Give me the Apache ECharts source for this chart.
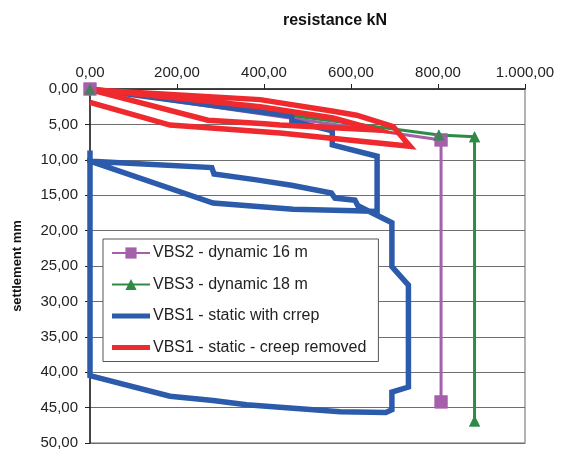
<!DOCTYPE html>
<html><head><meta charset="utf-8">
<script src="https://cdn.jsdelivr.net/npm/echarts@6/dist/echarts.min.js"></script>
<style>html,body{margin:0;padding:0;background:#fff}#c{width:561px;height:451px}</style>
</head><body><div id="c"></div>
<script>
// ---- data ----
const seriesNames = ['VBS2 - dynamic 16 m', 'VBS3 - dynamic 18 m', 'VBS1 - static with crrep', 'VBS1 - static - creep removed'];
const xTickLabels = ['0,00', '200,00', '400,00', '600,00', '800,00', '1.000,00'];
const yTickLabels = ['0,00', '5,00', '10,00', '15,00', '20,00', '25,00', '30,00', '35,00', '40,00', '45,00', '50,00'];

const vbs2Load   = [0, 807, 807];
const vbs2Settle = [0, 7.2, 44.2];

const vbs3Load   = [0, 802, 884, 884];
const vbs3Settle = [0, 6.5, 6.75, 46.9];

const vbs1Load   = [0, 464, 464, 557, 557, 660, 660, 609, 467, 283, 0, 280, 285, 379, 463, 555, 563, 609, 616, 694, 694, 732, 732, 694, 694, 680, 575, 360, 283, 184, 0, 0];
const vbs1Settle = [0, 3.8, 4.5, 5.9, 7.9, 9.5, 17.3, 17.2, 17.0, 16.1, 10.2, 11.1, 12.0, 12.8, 13.6, 14.7, 15.4, 15.7, 16.5, 18.9, 25.1, 27.7, 42.1, 42.8, 45.3, 45.7, 45.6, 44.6, 44.0, 43.4, 40.5, 8.7];

const vbs1cLoad   = [0, 391, 559, 659, 437, 402, 271, 0, 391, 556, 613, 697, 736, 437, 184, 0];
const vbs1cSettle = [0, 2.5, 4.1, 5.8, 5.1, 4.9, 4.4, 0.1, 1.5, 3.1, 3.7, 5.3, 8.1, 6.2, 5.1, 1.9];

// ---- helpers ----
function pairs(xs, ys) { return xs.map((x, i) => [x, ys[i]]); }

const purple = '#A65FAB', green = '#2E8B47', blue = '#2B5BAA', red = '#EE2A2E';
const FONT = 'Liberation Sans, Arial, sans-serif';
// plain thick line legend icon (tiny specks keep the 14px box so the bar stays thin)
const barIcon = 'path://M0,0h0.02v0.02h-0.02z M0,4.5h38v5h-38z M0,13.98h0.02v0.02h-0.02z';

const chart = echarts.init(document.getElementById('c'), null, { renderer: 'canvas' });
chart.setOption({
  animation: false,
  backgroundColor: '#fff',
  title: {
    text: 'resistance kN',
    left: 330, top: 8,
    textAlign: 'center',
    textStyle: { fontFamily: FONT, fontSize: 16, fontWeight: 'bold', color: '#111' }
  },
  grid: {
    left: 90, right: 36, top: 89, bottom: 8,
    show: true, borderColor: '#9a9a9a', borderWidth: 1.5, backgroundColor: 'transparent'
  },
  legend: {
    orient: 'vertical',
    left: 103, top: 239,
    padding: [6, 12, 6, 8],
    itemWidth: 38, itemHeight: 14, itemGap: 15.5,
    borderColor: '#555', borderWidth: 1, backgroundColor: '#fff',
    data: [
      { name: seriesNames[0] },
      { name: seriesNames[1] },
      { name: seriesNames[2], icon: barIcon },
      { name: seriesNames[3], icon: barIcon }
    ],
    textStyle: { fontFamily: FONT, fontSize: 16, color: '#222', padding: [0, 0, 0, -2] }
  },
  xAxis: {
    type: 'value', position: 'top',
    min: 0, max: 1000, interval: 200,
    axisLine: { show: true, lineStyle: { color: '#222', width: 1.5 } },
    axisTick: { show: true, inside: false, length: 5, lineStyle: { color: '#222' } },
    splitLine: { show: false },
    axisLabel: {
      fontFamily: FONT, fontSize: 15, color: '#222', margin: 9,
      formatter: v => xTickLabels[Math.round(v / 200)]
    }
  },
  yAxis: {
    type: 'value', inverse: true,
    min: 0, max: 50, interval: 5,
    name: 'settlement mm', nameLocation: 'middle', nameGap: 66, nameRotate: 90,
    nameTextStyle: { fontFamily: FONT, fontSize: 13, fontWeight: 'bold', color: '#111' },
    axisLine: { show: true, lineStyle: { color: '#222', width: 1.5 } },
    axisTick: { show: true, inside: false, length: 5, lineStyle: { color: '#222' } },
    splitLine: { show: true, lineStyle: { color: '#6e6e6e', width: 1 } },
    axisLabel: {
      fontFamily: FONT, fontSize: 15, color: '#222', margin: 12,
      formatter: v => yTickLabels[Math.round(v / 5)]
    }
  },
  series: [
    {
      name: seriesNames[0], type: 'line', z: 2,
      data: pairs(vbs2Load, vbs2Settle),
      symbol: 'rect', symbolSize: 13, showSymbol: true,
      lineStyle: { color: purple, width: 3 }, itemStyle: { color: purple }
    },
    {
      name: seriesNames[1], type: 'line', z: 3,
      data: pairs(vbs3Load, vbs3Settle),
      symbol: 'triangle', symbolSize: 11, showSymbol: true,
      lineStyle: { color: green, width: 3 }, itemStyle: { color: green }
    },
    {
      name: seriesNames[2], type: 'line', z: 4,
      data: pairs(vbs1Load, vbs1Settle),
      symbol: 'none', showSymbol: false,
      lineStyle: { color: blue, width: 5.5, join: 'miter' }, itemStyle: { color: blue }
    },
    {
      name: seriesNames[3], type: 'line', z: 5,
      data: pairs(vbs1cLoad, vbs1cSettle),
      symbol: 'none', showSymbol: false,
      lineStyle: { color: red, width: 5.5, join: 'miter' }, itemStyle: { color: red }
    },
    {
      name: 'm2', type: 'scatter', z: 6, silent: true,
      data: pairs(vbs2Load, vbs2Settle),
      symbol: 'rect', symbolSize: 13, itemStyle: { color: purple }
    },
    {
      name: 'm3', type: 'scatter', z: 7, silent: true,
      data: pairs(vbs3Load, vbs3Settle),
      symbol: 'triangle', symbolSize: 11, itemStyle: { color: green }
    }
  ]
});
</script>
</body></html>
